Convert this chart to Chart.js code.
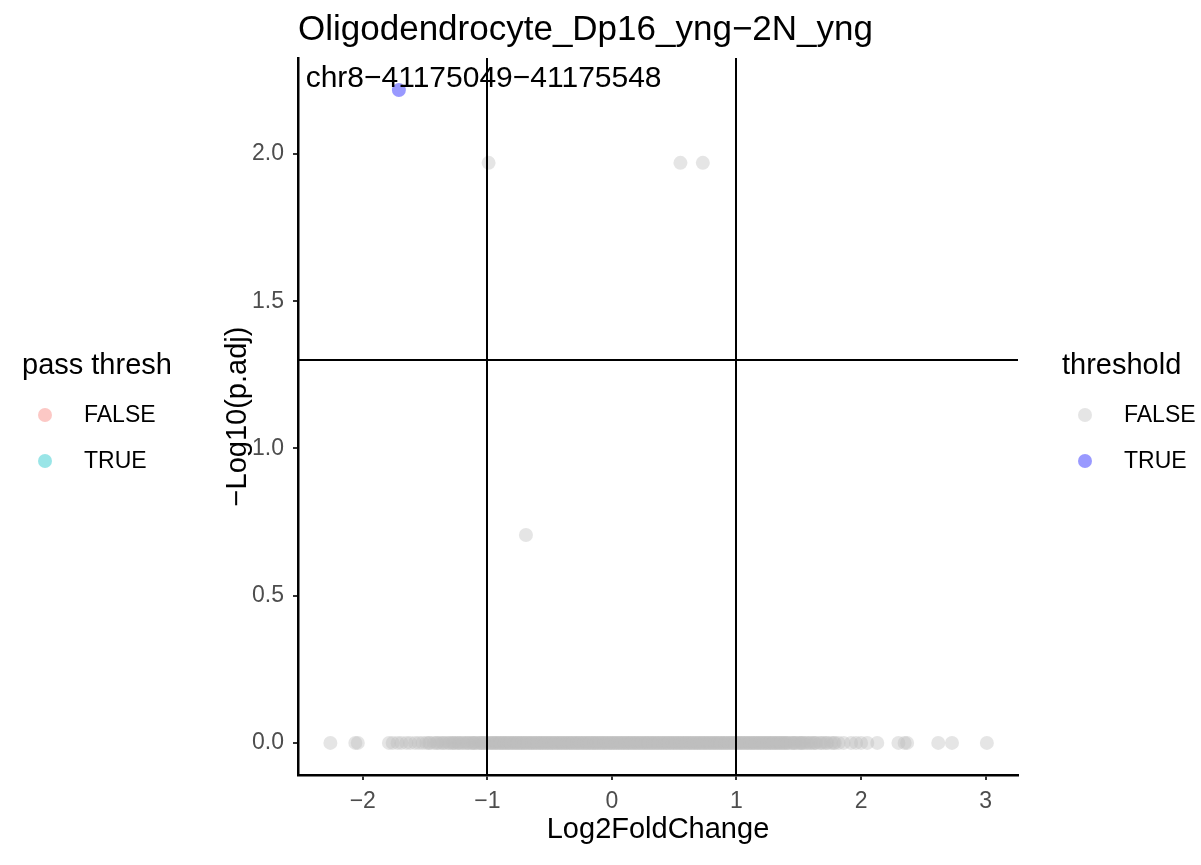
<!DOCTYPE html>
<html>
<head>
<meta charset="utf-8">
<script src="https://cdn.jsdelivr.net/npm/chart.js@4.4.1/dist/chart.umd.min.js"></script>
<style>
  html, body { margin: 0; padding: 0; background: #fff; }
  #wrap { width: 1201px; height: 865px; position: relative; }
</style>
</head>
<body>
<div id="wrap"><canvas id="volcano"></canvas></div>
<script>
// 데이터: log2 fold change / -log10(p.adj)
const plotTitle = "Oligodendrocyte_Dp16_yng\u22122N_yng";
const xTitle = "Log2FoldChange";
const yTitle = "\u2212Log10(p.adj)";

// p.adj = 1 인 피크들 (y = 0)
const baselineLfc = [
  -2.26, -2.06, -2.04, -1.79, -1.76, -1.72, -1.69, -1.65, -1.62, -1.58, -1.55, -1.52,
  -1.49, -1.46, -1.43, -1.40, -1.38, -1.35, -1.33, -1.30, -1.28, -1.26, -1.24, -1.22,
  -1.19, -1.17, -1.15, -1.12, -1.11, -1.09, -1.06, -1.05, -1.03, -1.01, -0.99, -0.97,
  -0.94, -0.93, -0.91, -0.88, -0.87, -0.85, -0.83, -0.80, -0.79, -0.77, -0.74, -0.73,
  -0.71, -0.69, -0.66, -0.65, -0.63, -0.61, -0.58, -0.57, -0.55, -0.52, -0.51, -0.49,
  -0.47, -0.44, -0.43, -0.41, -0.38, -0.37, -0.35, -0.33, -0.30, -0.29, -0.27, -0.24,
  -0.23, -0.21, -0.19, -0.16, -0.15, -0.13, -0.11, -0.08, -0.07, -0.05, -0.03, -0.01,
  0.01, 0.02, 0.04, 0.06, 0.09, 0.10, 0.12, 0.14, 0.17, 0.18, 0.20, 0.22, 0.25, 0.26,
  0.28, 0.31, 0.32, 0.34, 0.36, 0.39, 0.40, 0.42, 0.44, 0.47, 0.48, 0.50, 0.53, 0.54,
  0.56, 0.58, 0.61, 0.62, 0.64, 0.67, 0.68, 0.70, 0.72, 0.75, 0.76, 0.78, 0.81, 0.82,
  0.84, 0.86, 0.89, 0.90, 0.92, 0.95, 0.96, 0.98, 1.00, 1.03, 1.04, 1.06, 1.09, 1.10,
  1.12, 1.14, 1.17, 1.18, 1.20, 1.23, 1.24, 1.26, 1.28, 1.31, 1.32, 1.34, 1.37, 1.38,
  1.40, 1.42, 1.45, 1.46, 1.48, 1.51, 1.52, 1.54, 1.57, 1.59, 1.62, 1.64, 1.67, 1.70,
  1.73, 1.76, 1.79, 1.82, 1.86, 1.92, 1.96, 2.00, 2.05, 2.13, 2.30, 2.35, 2.37, 2.62,
  2.73, 3.01,
  // 두 번째 묶음 (밀집 구간)
  -1.47, -1.41, -1.36, -1.31, -1.27, -1.23, -1.20, -1.16, -1.13, -1.10, -1.07, -1.04,
  -1.02, -0.98, -0.96, -0.95, -0.92, -0.90, -0.89, -0.86, -0.84, -0.82, -0.81, -0.78,
  -0.76, -0.75, -0.72, -0.70, -0.68, -0.67, -0.64, -0.62, -0.60, -0.59, -0.56, -0.54,
  -0.53, -0.50, -0.48, -0.46, -0.45, -0.42, -0.40, -0.39, -0.36, -0.34, -0.32, -0.31,
  -0.28, -0.26, -0.25, -0.22, -0.20, -0.18, -0.17, -0.14, -0.12, -0.10, -0.09, -0.06,
  -0.04, -0.02, 0.00, 0.03, 0.05, 0.07, 0.08, 0.11, 0.13, 0.15, 0.16, 0.19, 0.21,
  0.23, 0.24, 0.27, 0.29, 0.30, 0.33, 0.35, 0.37, 0.38, 0.41, 0.43, 0.45, 0.46, 0.49,
  0.51, 0.52, 0.55, 0.57, 0.59, 0.60, 0.63, 0.65, 0.66, 0.69, 0.71, 0.73, 0.74, 0.77,
  0.79, 0.80, 0.83, 0.85, 0.87, 0.88, 0.91, 0.93, 0.94, 0.97, 0.99, 1.01, 1.02, 1.05,
  1.07, 1.08, 1.11, 1.13, 1.15, 1.16, 1.19, 1.21, 1.22, 1.25, 1.27, 1.29, 1.30, 1.33,
  1.35, 1.36, 1.39, 1.41, 1.44, 1.47, 1.50, 1.53, 1.56, 1.60, 1.63, 1.68, 1.72, 1.78
];

// 나머지 threshold FALSE 피크
const otherLfc = [-0.99, 0.55, 0.73, -0.69];
const otherLogP = [1.97, 1.97, 1.97, 0.706];

// threshold TRUE 피크
const sigLfc = [-1.71];
const sigLogP = [2.217];
const sigLabels = ["chr8\u221241175049\u221241175548"];
const sigLabelX = [-1.03];   // 라벨 위치 (repel 된 위치)
const sigLabelY = [2.255];

// 축 눈금
const xTickValues = [-2, -1, 0, 1, 2, 3];
const xTickLabels = ["\u22122", "\u22121", "0", "1", "2", "3"];
const yTickValues = [0, 0.5, 1, 1.5, 2];
const yTickLabels = ["0.0", "0.5", "1.0", "1.5", "2.0"];

// 기준선
const lfcCutoffs = [-1, 1];
const padjCutoff = 1.301;

// 범례
const passLegendTitle = "pass thresh";
const passLegendKeys = ["FALSE", "TRUE"];
const thrLegendTitle = "threshold";
const thrLegendKeys = ["FALSE", "TRUE"];

const FONT = "'Liberation Sans', Arial, Helvetica, sans-serif";
const greyPt = "rgba(190,190,190,0.4)";
const bluePt = "rgba(0,0,255,0.4)";
const passColors = ["rgba(248,118,109,0.4)", "rgba(0,191,196,0.4)"];
const thrColors = [greyPt, bluePt];

const falseData = baselineLfc.map(x => ({ x: x, y: 0 }))
  .concat(otherLfc.map((x, i) => ({ x: x, y: otherLogP[i] })));
const trueData = sigLfc.map((x, i) => ({ x: x, y: sigLogP[i] }));

// 기준선, 라벨, 제목, 범례 그리기
const decorPlugin = {
  id: "decor",
  afterDatasetsDraw(chart) {
    const ctx = chart.ctx;
    const xs = chart.scales.x, ys = chart.scales.y;
    const a = chart.chartArea;
    ctx.save();
    ctx.strokeStyle = "#000";
    ctx.lineWidth = 2;
    lfcCutoffs.forEach(v => {
      const px = Math.round(xs.getPixelForValue(v));
      ctx.beginPath();
      ctx.moveTo(px, a.top);
      ctx.lineTo(px, a.bottom);
      ctx.stroke();
    });
    const py = Math.round(ys.getPixelForValue(padjCutoff));
    ctx.beginPath();
    ctx.moveTo(a.left, py);
    ctx.lineTo(a.right, py);
    ctx.stroke();

    // 라벨
    ctx.fillStyle = "#000";
    ctx.font = "30px " + FONT;
    ctx.textAlign = "center";
    ctx.textBaseline = "middle";
    sigLabels.forEach((t, i) => {
      ctx.fillText(t, xs.getPixelForValue(sigLabelX[i]), ys.getPixelForValue(sigLabelY[i]));
    });
    ctx.restore();
  },
  afterDraw(chart) {
    const ctx = chart.ctx;
    const a = chart.chartArea;
    ctx.save();
    ctx.fillStyle = "#000";
    // 제목
    ctx.font = "35px " + FONT;
    ctx.textAlign = "left";
    ctx.textBaseline = "alphabetic";
    ctx.fillText(plotTitle, a.left, 40);
    // 축 제목
    ctx.font = "29px " + FONT;
    ctx.textAlign = "center";
    ctx.textBaseline = "middle";
    ctx.fillText(xTitle, (a.left + a.right) / 2, 830);
    ctx.save();
    ctx.translate(238, (a.top + a.bottom) / 2);
    ctx.rotate(-Math.PI / 2);
    ctx.fillText(yTitle, 0, 0);
    ctx.restore();

    // 범례
    function legend(x0, title, keys, colors) {
      ctx.font = "29px " + FONT;
      ctx.textAlign = "left";
      ctx.fillStyle = "#000";
      ctx.fillText(title, x0, 366);
      ctx.font = "23px " + FONT;
      keys.forEach((k, i) => {
        const cy = 415 + i * 46;
        ctx.beginPath();
        ctx.arc(x0 + 23, cy, 7, 0, Math.PI * 2);
        ctx.fillStyle = colors[i];
        ctx.fill();
        ctx.fillStyle = "#000";
        ctx.fillText(k, x0 + 62, cy + 1);
      });
    }
    legend(22, passLegendTitle, passLegendKeys, passColors);
    legend(1062, thrLegendTitle, thrLegendKeys, thrColors);
    ctx.restore();
  }
};

const whiteBg = {
  id: "whiteBackground",
  beforeDraw(chart) {
    const ctx = chart.ctx;
    ctx.save();
    ctx.fillStyle = "white";
    ctx.fillRect(0, 0, chart.width, chart.height);
    ctx.restore();
  }
};

const ctx = document.getElementById("volcano").getContext("2d");
new Chart(ctx, {
  type: "scatter",
  data: {
    datasets: [
      {
        label: "FALSE",
        data: falseData,
        backgroundColor: greyPt,
        borderWidth: 0,
        pointRadius: 7,
        pointHoverRadius: 7,
      },
      {
        label: "TRUE",
        data: trueData,
        backgroundColor: bluePt,
        borderWidth: 0,
        pointRadius: 7,
        pointHoverRadius: 7,
      },
    ],
  },
  options: {
    responsive: true,
    maintainAspectRatio: false,
    animation: false,
    events: [],
    layout: { padding: { left: 238, right: 183, top: 58, bottom: 50 } },
    plugins: {
      legend: { display: false },
      tooltip: { enabled: false },
      title: { display: false },
    },
    scales: {
      x: {
        type: "linear",
        min: -2.52,
        max: 3.26,
        afterFit: (s) => { s.height = 40; },
        afterBuildTicks: (s) => { s.ticks = xTickValues.map(v => ({ value: v })); },
        ticks: {
          padding: 8,
          color: "#4d4d4d",
          font: { family: FONT, size: 23 },
          maxRotation: 0,
          autoSkip: false,
          callback: (v) => xTickLabels[xTickValues.indexOf(v)],
        },
        grid: { display: true, drawOnChartArea: false, drawTicks: true, tickLength: 5, color: "#333", lineWidth: 2 },
        border: { display: true, color: "#000", width: 2.5 },
      },
      y: {
        type: "linear",
        min: -0.109,
        max: 2.326,
        afterFit: (s) => { s.width = 60; },
        afterBuildTicks: (s) => { s.ticks = yTickValues.map(v => ({ value: v })); },
        ticks: {
          padding: 9,
          color: "#4d4d4d",
          font: { family: FONT, size: 23 },
          autoSkip: false,
          callback: (v) => yTickLabels[yTickValues.indexOf(v)],
        },
        grid: { display: true, drawOnChartArea: false, drawTicks: true, tickLength: 5, color: "#333", lineWidth: 2 },
        border: { display: true, color: "#000", width: 2.5 },
      },
    },
  },
  plugins: [whiteBg, decorPlugin],
});
</script>
</body>
</html>
